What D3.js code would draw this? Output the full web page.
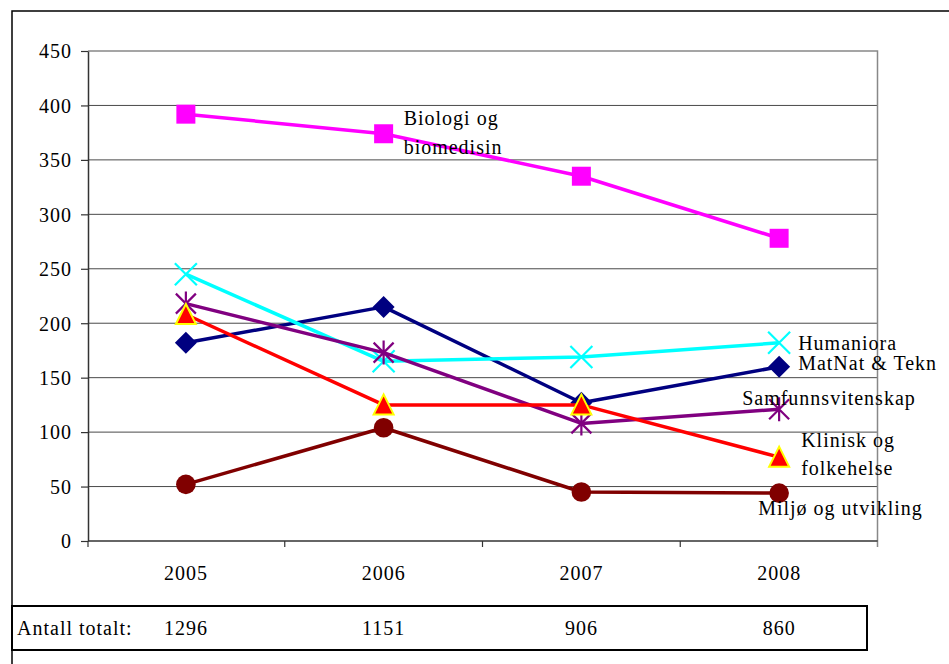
<!DOCTYPE html>
<html><head><meta charset="utf-8">
<script src="https://cdn.jsdelivr.net/npm/d3@7"></script>
<style>
body{margin:0;background:#fff}
text{font-family:"Liberation Serif","Times New Roman",serif;font-size:20px;letter-spacing:1px;fill:#000}
</style>
</head><body>
<svg id="c" width="949" height="664"></svg>
<script>
const years = ["2005","2006","2007","2008"];
const totals = [1296, 1151, 906, 860];
const yTicks = [0,50,100,150,200,250,300,350,400,450];
const matnat    = [182, 215, 127, 160];
const biologi   = [392, 374, 335, 278];
const humaniora = [245, 165, 169, 182];
const samfunn   = [218, 173, 108, 121];
const klinisk   = [208, 125, 125, 77];
const miljo     = [52, 104, 45, 44];

const series = [
  {name:["MatNat & Tekn"], values:matnat, color:"#000080", marker:"diamond", lab:{dx:19, dy:[-4]}},
  {name:["Biologi og","biomedisin"], values:biologi, color:"#FF00FF", marker:"square", lab:{at:1, dx:20, dy:[-16,13]}},
  {name:["Humaniora"], values:humaniora, color:"#00FFFF", marker:"x", lab:{dx:19, dy:[0]}},
  {name:["Samfunnsvitenskap"], values:samfunn, color:"#800080", marker:"star", lab:{dx:-37, dy:[-11]}},
  {name:["Klinisk og","folkehelse"], values:klinisk, color:"#FF0000", marker:"triangle", lab:{dx:22, dy:[-17,11]}},
  {name:["Miljø og utvikling"], values:miljo, color:"#800000", marker:"circle", lab:{dx:-21, dy:[15]}}
];

const svg = d3.select("#c");
const pL = 88, pR = 877.5, pT = 51, pB = 541;
const x = d3.scaleBand().domain(years).range([87, 878]).paddingInner(0).paddingOuter(0);
const y = d3.scaleLinear().domain([0, 450]).range([pB, pT]);
const cx = d => x(d) + x.bandwidth()/2;

// outer frame
svg.append("rect").attr("x",12).attr("y",11).attr("width",1200).attr("height",1200)
  .attr("fill","none").attr("stroke","#000").attr("stroke-width",1.5);

// gridlines
svg.append("g").selectAll("line").data(yTicks.filter(t => t>0 && t<450)).join("line")
  .attr("x1",pL).attr("x2",pR).attr("y1",d=>y(d)).attr("y2",d=>y(d))
  .attr("stroke","#4a4a4a").attr("stroke-width",1);
// plot border top/right
svg.append("path").attr("d",`M${pL},${y(450)}H${pR}V${pB+6}`)
  .attr("fill","none").attr("stroke","#888").attr("stroke-width",1.5);

// y axis
const ya = svg.append("g").attr("transform",`translate(${pL},0)`)
  .call(d3.axisLeft(y).tickValues(yTicks).tickSize(7).tickPadding(9).tickSizeOuter(0));
ya.attr("font-family",null).attr("font-size",null);
ya.select(".domain").attr("stroke","#333").attr("stroke-width",1.5);
ya.selectAll(".tick line").attr("stroke","#333").attr("stroke-width",1.2);
ya.selectAll(".tick text").attr("dy","0.34em");

// x axis
svg.append("line").attr("x1",pL).attr("x2",pR).attr("y1",pB).attr("y2",pB)
  .attr("stroke","#333").attr("stroke-width",1.5);
const bounds = years.slice(1).map(d => x(d));
svg.append("g").selectAll("line").data([pL].concat(bounds)).join("line")
  .attr("x1",d=>d).attr("x2",d=>d).attr("y1",pB).attr("y2",pB+6)
  .attr("stroke","#333").attr("stroke-width",1.2);
svg.append("g").selectAll("text").data(years).join("text")
  .attr("x",d=>cx(d)).attr("y",573).attr("dy","0.34em").attr("text-anchor","middle").text(d=>d);

// markers
function markerPath(type){
  switch(type){
    case "square": return "M-9.5,-9.5H9.5V9.5H-9.5Z";
    case "diamond": return "M0,-11L11,0L0,11L-11,0Z";
    case "triangle": return "M0,-10.5L10,9.5H-10Z";
    case "x": return "M-11,-11L11,11M11,-11L-11,11";
    case "star": return "M-10,-10L10,10M10,-10L-10,10M0,-12V12";
    case "circle": return d3.symbol(d3.symbolCircle, Math.PI*9.8*9.8)();
  }
}
const line = d3.line().x((d,i)=>cx(years[i])).y(d=>y(d));
series.forEach(s => {
  const g = svg.append("g");
  g.append("path").attr("d", line(s.values)).attr("fill","none")
    .attr("stroke", s.color).attr("stroke-width",3.5).attr("stroke-linejoin","round");
  const open = (s.marker==="x"||s.marker==="star");
  g.selectAll("path.m").data(s.values).join("path").attr("class","m")
    .attr("transform",(d,i)=>`translate(${cx(years[i])},${y(d)})`)
    .attr("d", markerPath(s.marker))
    .attr("fill", open ? "none" : s.color)
    .attr("stroke", s.marker==="triangle" ? "#FFFF00" : open ? s.color : "none")
    .attr("stroke-width", s.marker==="triangle" ? 2 : 2.2);
});
// labels
series.forEach(s => {
  const i = s.lab.at !== undefined ? s.lab.at : 3;
  const px = cx(years[i]), py = y(s.values[i]);
  s.name.forEach((n,k) => {
    svg.append("text").attr("x", px + s.lab.dx).attr("y", py + s.lab.dy[k]).attr("dy","0.34em")
      .attr("text-anchor","start").text(n);
  });
});

// totals table
svg.append("rect").attr("x",12).attr("y",606).attr("width",855).attr("height",44)
  .attr("fill","none").attr("stroke","#000").attr("stroke-width",2);
svg.append("text").attr("x",17).attr("y",628).attr("dy","0.34em").text("Antall totalt:");
svg.append("g").selectAll("text").data(totals).join("text")
  .attr("x",(d,i)=>cx(years[i])).attr("y",628).attr("dy","0.34em").attr("text-anchor","middle").text(d=>d);
</script>
</body></html>
